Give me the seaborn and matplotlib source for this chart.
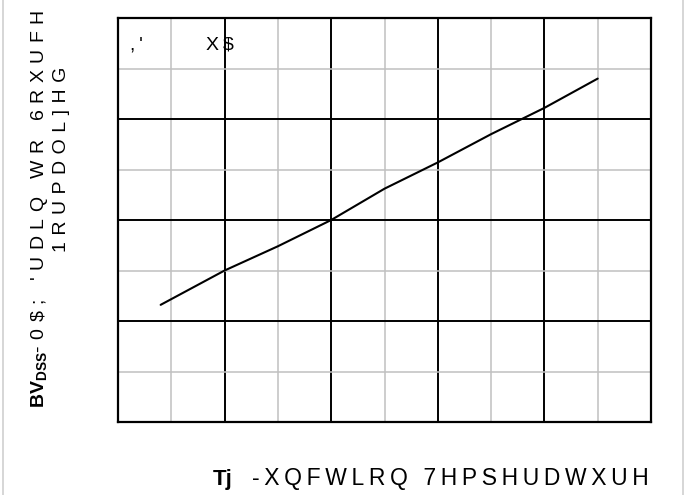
import matplotlib
matplotlib.use("Agg")
import matplotlib.pyplot as plt
from matplotlib.lines import Line2D
from matplotlib.ticker import MultipleLocator
import pandas as pd
import seaborn as sns

# junction temperature (deg C) and normalized BVDSS
tj = [-55, -25, 0, 25, 50, 75, 100, 125, 150]
bv_norm = [0.916, 0.950, 0.974, 1.000, 1.031, 1.057, 1.085, 1.111, 1.140]

x_range = (-75, 175)
y_range = (0.8, 1.2)

# the source text is letter-spaced
TS = "\u2009"   # thin space
MS = "\u2004"   # three-per-em space


def spaced(s, sep=TS):
    return sep.join(s)


def main():
    sns.set_theme(style="white")
    plt.rcParams["font.family"] = ["Liberation Sans", "DejaVu Sans"]
    plt.rcParams["mathtext.fontset"] = "custom"
    plt.rcParams["mathtext.rm"] = "Liberation Sans"
    plt.rcParams["mathtext.bf"] = "Liberation Sans:bold"

    df = pd.DataFrame({"Tj": tj, "BV": bv_norm})

    fig = plt.figure(figsize=(6.85, 4.95), dpi=100)
    ax = fig.add_axes([118 / 685, 73 / 495, 533 / 685, 404 / 495])

    ax.set_xlim(*x_range)
    ax.set_ylim(*y_range)
    ax.xaxis.set_major_locator(MultipleLocator(50, offset=25))
    ax.xaxis.set_minor_locator(MultipleLocator(50))
    ax.yaxis.set_major_locator(MultipleLocator(0.1))
    ax.yaxis.set_minor_locator(MultipleLocator(0.05))
    ax.grid(which="minor", color="#c0c0c0", linewidth=1.1)
    ax.grid(which="major", color="black", linewidth=1.4)
    ax.set_axisbelow(True)
    ax.tick_params(which="both", length=0, labelbottom=False, labelleft=False)
    for sp in ax.spines.values():
        sp.set_color("black")
        sp.set_linewidth(1.6)

    sns.lineplot(data=df, x="Tj", y="BV", color="black", linewidth=1.5, ax=ax)
    ax.set_xlabel("")
    ax.set_ylabel("")

    # condition text inside the plot
    fig.text(130 / 685, 1 - 45 / 495, spaced(",'"), fontsize=14, ha="left",
             va="center", color="black")
    fig.text(206 / 685, 1 - 45 / 495, spaced("X$"), fontsize=14, ha="left",
             va="center", color="black")

    # x label
    fig.text(213 / 685, 1 - 485 / 495, "Tj", fontsize=16, fontweight="bold",
             ha="left", va="baseline", color="black")
    fig.text(252 / 685, 1 - 485 / 495, spaced("-XQFWLRQ 7HPSHUDWXUH"),
             fontsize=16.5, ha="left", va="baseline", color="black")

    # y label, two lines
    line1 = (r"$\mathbf{BV_{DSS}}$" + "-" + MS + "0" + MS + r"\$" + MS + ";"
             + MS + " " + MS + spaced("'UDLQ WR 6RXUFH", MS))
    fig.text(40 / 685, 1 - 408 / 495, line1, fontsize=14, rotation=90,
             ha="center", va="bottom", color="black")
    fig.text(62 / 685, 1 - 252 / 495, spaced("1RUPDOL]HG", MS), fontsize=14,
             rotation=90, ha="center", va="bottom", color="black")

    # page borders left and right
    for xb in (3 / 685, 683 / 685):
        fig.add_artist(Line2D([xb, xb], [0, 1], color="#d0d0d0", linewidth=1.2,
                              transform=fig.transFigure))

    fig.savefig("out.png", dpi=100)


if __name__ == "__main__":
    main()
